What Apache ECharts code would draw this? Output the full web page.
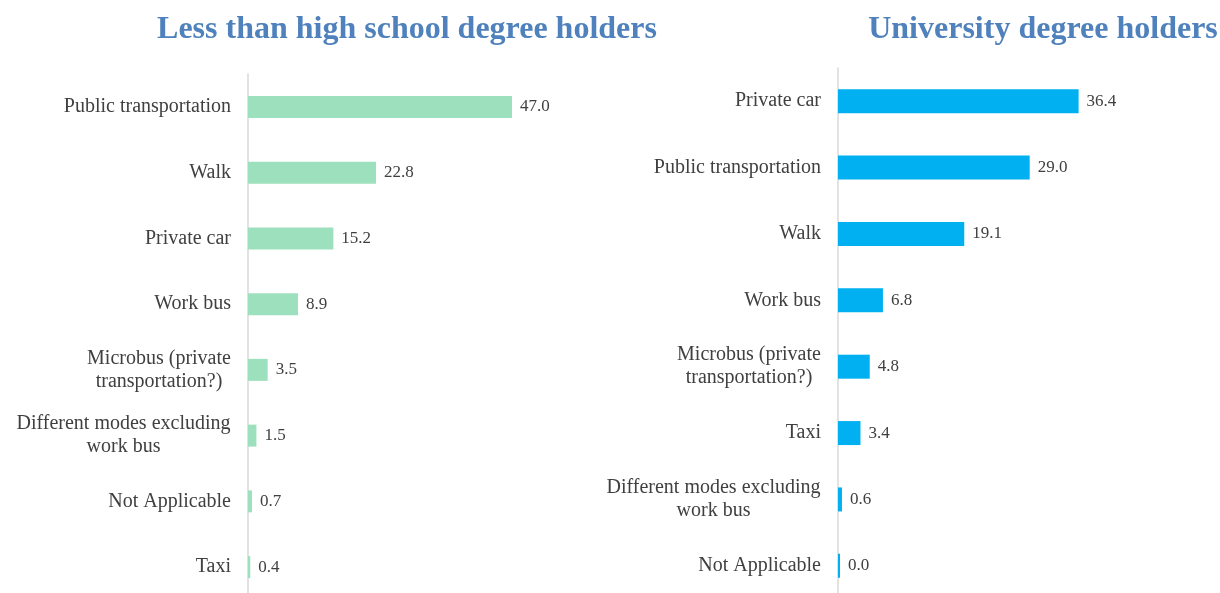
<!DOCTYPE html>
<html>
<head>
<meta charset="utf-8">
<script src="https://cdn.jsdelivr.net/npm/echarts@6/dist/echarts.min.js"></script>
<style>
html,body{margin:0;padding:0;background:#fff;overflow:hidden;width:1220px;height:593px;}
#chart{width:1220px;height:610px;}
</style>
</head>
<body>
<div id="chart"></div>
<script>
const leftTitle = 'Less than high school degree holders';
const rightTitle = 'University degree holders';
const leftCategories = ['Public transportation','Walk','Private car','Work bus','Microbus (private\ntransportation?)','Different modes excluding\nwork bus','Not Applicable','Taxi'];
const leftValues = [47.0, 22.8, 15.2, 8.9, 3.5, 1.5, 0.7, 0.4];
const rightCategories = ['Private car','Public transportation','Walk','Work bus','Microbus (private\ntransportation?)','Taxi','Different modes excluding\nwork bus','Not Applicable'];
const rightValues = [36.4, 29.0, 19.1, 6.8, 4.8, 3.4, 0.6, 0.0];

const FONT = '"Liberation Serif", "Times New Roman", serif';
const CAT_SIZE = 20;
const textColor = '#404040';

const canvas = document.createElement('canvas');
const ctx = canvas.getContext('2d');
ctx.font = CAT_SIZE + 'px ' + FONT;

function makeAxisLabel(cats) {
  const rich = {};
  cats.forEach((c, i) => {
    const lines = c.split('\n');
    const w = Math.ceil(Math.max(...lines.map(l => ctx.measureText(l).width)));
    rich['m' + i] = {width: w, align: 'center', fontSize: CAT_SIZE, fontFamily: FONT, color: textColor, lineHeight: 23};
  });
  return {
    color: textColor,
    fontSize: CAT_SIZE,
    fontFamily: FONT,
    lineHeight: 23,
    margin: 17,
    formatter: function (val, idx) {
      const lines = val.split('\n');
      if (lines.length === 1) return val;
      return lines.map(l => '{m' + idx + '|' + l + '}').join('\n');
    },
    rich: rich
  };
}

const chart = echarts.init(document.getElementById('chart'), null, {renderer: 'canvas'});

function valueAxis(gridIndex, max) {
  return {
    type: 'value', gridIndex: gridIndex, min: 0, max: max,
    axisLine: {show: false}, axisTick: {show: false},
    axisLabel: {show: false}, splitLine: {show: false}
  };
}
function catAxis(gridIndex, cats) {
  return {
    type: 'category', gridIndex: gridIndex, data: cats, inverse: true,
    axisLine: {show: true, lineStyle: {color: '#d9d9d9', width: 1.5}},
    axisTick: {show: false},
    axisLabel: makeAxisLabel(cats)
  };
}
const valueLabel = {
  show: true, position: 'right', distance: 8,
  color: textColor, fontSize: 17, fontFamily: FONT,
  formatter: p => p.value.toFixed(1)
};

chart.setOption({
  backgroundColor: '#ffffff',
  animation: false,
  title: [
    {text: leftTitle, left: 407, top: 14, textAlign: 'center', padding: 0,
     textStyle: {color: '#4f81bd', fontSize: 32, fontWeight: 'bold', fontFamily: FONT}},
    {text: rightTitle, left: 1043, top: 14, textAlign: 'center', padding: 0,
     textStyle: {color: '#4f81bd', fontSize: 32, fontWeight: 'bold', fontFamily: FONT}}
  ],
  grid: [
    {left: 248, top: 74, width: 337, height: 526, containLabel: false},
    {left: 838, top: 68, width: 330.5, height: 531, containLabel: false}
  ],
  xAxis: [valueAxis(0, 60), valueAxis(1, 50)],
  yAxis: [catAxis(0, leftCategories), catAxis(1, rightCategories)],
  series: [
    {type: 'bar', xAxisIndex: 0, yAxisIndex: 0, data: leftValues, barWidth: 22,
     barMinHeight: 1.5,
     itemStyle: {color: '#9de0bd'}, label: valueLabel},
    {type: 'bar', xAxisIndex: 1, yAxisIndex: 1, data: rightValues, barWidth: 24,
     barMinHeight: 2,
     itemStyle: {color: '#00b0f0'}, label: valueLabel}
  ]
});
</script>
</body>
</html>
